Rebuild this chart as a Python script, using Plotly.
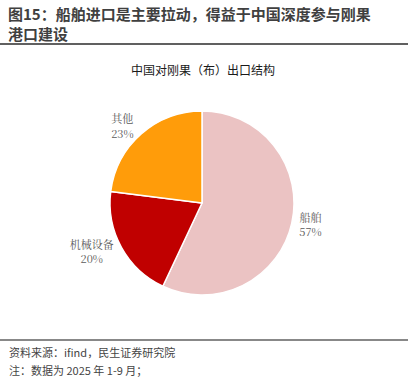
import plotly.graph_objects as go

categories = ["船舶", "机械设备", "其他"]
shares = [57, 20, 23]
colors = ["#EBC3C3", "#C00000", "#FF9C0A"]

W, H = 408, 378
fig = go.Figure()
fig.add_trace(go.Pie(
    labels=categories, values=shares, sort=False, direction="clockwise", rotation=0,
    marker=dict(colors=colors, line=dict(color="white", width=1.5)),
    textposition="outside", texttemplate="%{label}<br>%{value}%",
    textfont=dict(family="Noto Serif CJK SC, Noto Sans CJK SC", size=11, color="#595959"),
    outsidetextfont=dict(family="Noto Serif CJK SC, Noto Sans CJK SC", size=11, color="#595959"),
    domain=dict(x=[(202-92)/W, (202+92)/W], y=[1-295/H, 1-111/H]),
    showlegend=False, hoverinfo="label+percent",
))

def px(x): return x / W
def py(y): return 1 - y / H

annos = [
    dict(text="<b>图15：船舶进口是主要拉动，得益于中国深度参与刚果<br>港口建设</b>",
         x=px(6), y=py(1), xanchor="left", yanchor="top", align="left",
         font=dict(family="Noto Sans CJK SC", size=15, color="#404040")),
    dict(text="中国对刚果（布）出口结构", x=px(203), y=py(70), xanchor="center", yanchor="middle",
         font=dict(family="Noto Sans CJK SC", size=12, color="#1a1a1a")),
    dict(text="资料来源：ifind，民生证券研究院", x=px(7), y=py(352), xanchor="left", yanchor="middle",
         font=dict(family="Noto Sans CJK SC", size=11, color="#444444")),
    dict(text="注：数据为 2025 年 1-9 月；", x=px(7), y=py(370), xanchor="left", yanchor="middle",
         font=dict(family="Noto Sans CJK SC", size=11, color="#444444")),
]
for a in annos:
    a.update(xref="paper", yref="paper", showarrow=False)

shapes = [
    dict(type="line", xref="paper", yref="paper", x0=0, x1=1, y0=py(44), y1=py(44),
         line=dict(color="#606060", width=2)),
    dict(type="line", xref="paper", yref="paper", x0=0, x1=1, y0=py(340), y1=py(340),
         line=dict(color="#606060", width=1.5)),
]

fig.update_layout(width=W, height=H, margin=dict(l=0, r=0, t=0, b=0),
                  paper_bgcolor="white", plot_bgcolor="white",
                  annotations=annos, shapes=shapes)
fig.write_html("out.html", config={"displayModeBar": False},
               post_script="document.body.style.margin='0';document.body.style.overflow='hidden';")
